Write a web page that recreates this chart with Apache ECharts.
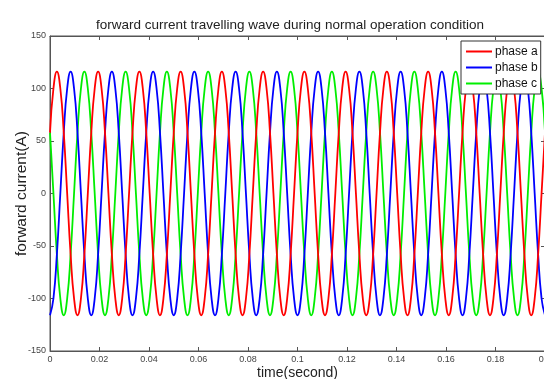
<!DOCTYPE html>
<html>
<head>
<meta charset="utf-8">
<script src="https://cdn.jsdelivr.net/npm/echarts@6/dist/echarts.min.js"></script>
<style>html,body{margin:0;padding:0;background:#fff;}#c{width:544px;height:379px;}</style>
</head>
<body>
<div id="c"></div>
<script>
var titleText = 'forward current travelling wave during normal operation condition';
var xName = 'time(second)';
var yName = 'forward current(A)';
var seriesNames = ['phase a', 'phase b', 'phase c'];
var xTicks = [0, 0.02, 0.04, 0.06, 0.08, 0.1, 0.12, 0.14, 0.16, 0.18, 0.2];
var yTicks = [-150, -100, -50, 0, 50, 100, 150];

var time = [
0, 0.00139, 0.00278, 0.00417, 0.00556, 0.00694, 0.00833, 0.00972, 0.01111, 0.0125, 0.01389, 0.01528,
0.01667, 0.01806, 0.01944, 0.02083, 0.02222, 0.02361, 0.025, 0.02639, 0.02778, 0.02917, 0.03056, 0.03194,
0.03333, 0.03472, 0.03611, 0.0375, 0.03889, 0.04028, 0.04167, 0.04306, 0.04444, 0.04583, 0.04722, 0.04861,
0.05, 0.05139, 0.05278, 0.05417, 0.05556, 0.05694, 0.05833, 0.05972, 0.06111, 0.0625, 0.06389, 0.06528,
0.06667, 0.06806, 0.06944, 0.07083, 0.07222, 0.07361, 0.075, 0.07639, 0.07778, 0.07917, 0.08056, 0.08194,
0.08333, 0.08472, 0.08611, 0.0875, 0.08889, 0.09028, 0.09167, 0.09306, 0.09444, 0.09583, 0.09722, 0.09861,
0.1, 0.10139, 0.10278, 0.10417, 0.10556, 0.10694, 0.10833, 0.10972, 0.11111, 0.1125, 0.11389, 0.11528,
0.11667, 0.11806, 0.11944, 0.12083, 0.12222, 0.12361, 0.125, 0.12639, 0.12778, 0.12917, 0.13056, 0.13194,
0.13333, 0.13472, 0.13611, 0.1375, 0.13889, 0.14028, 0.14167, 0.14306, 0.14444, 0.14583, 0.14722, 0.14861,
0.15, 0.15139, 0.15278, 0.15417, 0.15556, 0.15694, 0.15833, 0.15972, 0.16111, 0.1625, 0.16389, 0.16528,
0.16667, 0.16806, 0.16944, 0.17083, 0.17222, 0.17361, 0.175, 0.17639, 0.17778, 0.17917, 0.18056, 0.18194,
0.18333, 0.18472, 0.18611, 0.1875, 0.18889, 0.19028, 0.19167, 0.19306, 0.19444, 0.19583, 0.19722, 0.19861,
0.2
];

var phaseA = [
58, 100, 116, 100, 58, 0, -58, -100, -116, -100, -58, 0,
58, 100, 116, 100, 58, 0, -58, -100, -116, -100, -58, 0,
58, 100, 116, 100, 58, 0, -58, -100, -116, -100, -58, 0,
58, 100, 116, 100, 58, 0, -58, -100, -116, -100, -58, 0,
58, 100, 116, 100, 58, 0, -58, -100, -116, -100, -58, 0,
58, 100, 116, 100, 58, 0, -58, -100, -116, -100, -58, 0,
58, 100, 116, 100, 58, 0, -58, -100, -116, -100, -58, 0,
58, 100, 116, 100, 58, 0, -58, -100, -116, -100, -58, 0,
58, 100, 116, 100, 58, 0, -58, -100, -116, -100, -58, 0,
58, 100, 116, 100, 58, 0, -58, -100, -116, -100, -58, 0,
58, 100, 116, 100, 58, 0, -58, -100, -116, -100, -58, 0,
58, 100, 116, 100, 58, 0, -58, -100, -116, -100, -58, 0,
58
];

var phaseB = [
-116, -100, -58, 0, 58, 100, 116, 100, 58, 0, -58, -100,
-116, -100, -58, 0, 58, 100, 116, 100, 58, 0, -58, -100,
-116, -100, -58, 0, 58, 100, 116, 100, 58, 0, -58, -100,
-116, -100, -58, 0, 58, 100, 116, 100, 58, 0, -58, -100,
-116, -100, -58, 0, 58, 100, 116, 100, 58, 0, -58, -100,
-116, -100, -58, 0, 58, 100, 116, 100, 58, 0, -58, -100,
-116, -100, -58, 0, 58, 100, 116, 100, 58, 0, -58, -100,
-116, -100, -58, 0, 58, 100, 116, 100, 58, 0, -58, -100,
-116, -100, -58, 0, 58, 100, 116, 100, 58, 0, -58, -100,
-116, -100, -58, 0, 58, 100, 116, 100, 58, 0, -58, -100,
-116, -100, -58, 0, 58, 100, 116, 100, 58, 0, -58, -100,
-116, -100, -58, 0, 58, 100, 116, 100, 58, 0, -58, -100,
-116
];

var phaseC = [
58, 0, -58, -100, -116, -100, -58, 0, 58, 100, 116, 100,
58, 0, -58, -100, -116, -100, -58, 0, 58, 100, 116, 100,
58, 0, -58, -100, -116, -100, -58, 0, 58, 100, 116, 100,
58, 0, -58, -100, -116, -100, -58, 0, 58, 100, 116, 100,
58, 0, -58, -100, -116, -100, -58, 0, 58, 100, 116, 100,
58, 0, -58, -100, -116, -100, -58, 0, 58, 100, 116, 100,
58, 0, -58, -100, -116, -100, -58, 0, 58, 100, 116, 100,
58, 0, -58, -100, -116, -100, -58, 0, 58, 100, 116, 100,
58, 0, -58, -100, -116, -100, -58, 0, 58, 100, 116, 100,
58, 0, -58, -100, -116, -100, -58, 0, 58, 100, 116, 100,
58, 0, -58, -100, -116, -100, -58, 0, 58, 100, 116, 100,
58, 0, -58, -100, -116, -100, -58, 0, 58, 100, 116, 100,
58
];

var colors = ['#ff0000', '#0000ff', '#00ee00'];

function pairs(ys) {
  var out = [];
  for (var i = 0; i < time.length; i++) out.push([time[i], ys[i]]);
  return out;
}

var chart = echarts.init(document.getElementById('c'), null, {renderer: 'canvas'});
var FONT = '"Liberation Sans", Arial, sans-serif';
var axisColor = '#555';

var tickCommon = {show: true, inside: true, length: 4, lineStyle: {color: axisColor}};

var option = {
  animation: false,
  backgroundColor: '#fff',
  title: {
    text: titleText,
    left: 285, top: 13, textAlign: 'center',
    textStyle: {fontFamily: FONT, fontSize: 13.5, fontWeight: 'normal', color: '#222'}
  },
  grid: {
    left: 50, top: 36, width: 495, height: 315,
    containLabel: false,
    outerBoundsMode: 'none',
    show: true, borderColor: axisColor, borderWidth: 1, backgroundColor: '#fff'
  },
  legend: {
    data: seriesNames,
    orient: 'vertical',
    left: 461, top: 41,
    backgroundColor: '#fff',
    borderColor: '#333', borderWidth: 1, borderRadius: 0,
    padding: [4, 3, 4, 5],
    itemGap: 3,
    itemWidth: 26, itemHeight: 2,
    icon: 'rect',
    textStyle: {fontFamily: FONT, fontSize: 12, lineHeight: 13, color: '#111', padding: [0, 0, 0, -2]}
  },
  xAxis: [{
    type: 'value', min: xTicks[0], max: xTicks[xTicks.length - 1], interval: 0.02,
    position: 'bottom',
    name: xName, nameLocation: 'middle', nameGap: 15, nameMoveOverlap: false,
    nameTextStyle: {fontFamily: FONT, fontSize: 14, color: '#222'},
    axisLine: {show: true, onZero: false, lineStyle: {color: axisColor}},
    axisTick: tickCommon,
    axisLabel: {fontFamily: FONT, fontSize: 9, color: '#444', margin: 4,
      formatter: function (v) { return String(+v.toFixed(2)); }},
    splitLine: {show: false}
  }, {
    type: 'value', min: xTicks[0], max: xTicks[xTicks.length - 1], interval: 0.02,
    position: 'top',
    axisLine: {show: true, onZero: false, lineStyle: {color: axisColor}},
    axisTick: tickCommon,
    axisLabel: {show: false},
    splitLine: {show: false}
  }],
  yAxis: [{
    type: 'value', min: yTicks[0], max: yTicks[yTicks.length - 1], interval: 50,
    position: 'left',
    name: yName, nameLocation: 'middle', nameGap: 20, nameRotate: 90, nameMoveOverlap: false,
    nameTextStyle: {fontFamily: FONT, fontSize: 15.5, color: '#222'},
    axisLine: {show: true, onZero: false, lineStyle: {color: axisColor}},
    axisTick: tickCommon,
    axisLabel: {fontFamily: FONT, fontSize: 9, color: '#444', margin: 4},
    splitLine: {show: false}
  }, {
    type: 'value', min: yTicks[0], max: yTicks[yTicks.length - 1], interval: 50,
    position: 'right',
    axisLine: {show: true, onZero: false, lineStyle: {color: axisColor}},
    axisTick: tickCommon,
    axisLabel: {show: false},
    splitLine: {show: false}
  }],
  series: [
    {name: seriesNames[0], type: 'line', data: pairs(phaseA), smooth: 0.5, showSymbol: false,
     lineStyle: {width: 1.8, color: colors[0]}, itemStyle: {color: colors[0]}, z: 3},
    {name: seriesNames[1], type: 'line', data: pairs(phaseB), smooth: 0.5, showSymbol: false,
     lineStyle: {width: 1.8, color: colors[1]}, itemStyle: {color: colors[1]}, z: 2},
    {name: seriesNames[2], type: 'line', data: pairs(phaseC), smooth: 0.5, showSymbol: false,
     lineStyle: {width: 1.8, color: colors[2]}, itemStyle: {color: colors[2]}, z: 1}
  ]
};
chart.setOption(option);
</script>
</body>
</html>
